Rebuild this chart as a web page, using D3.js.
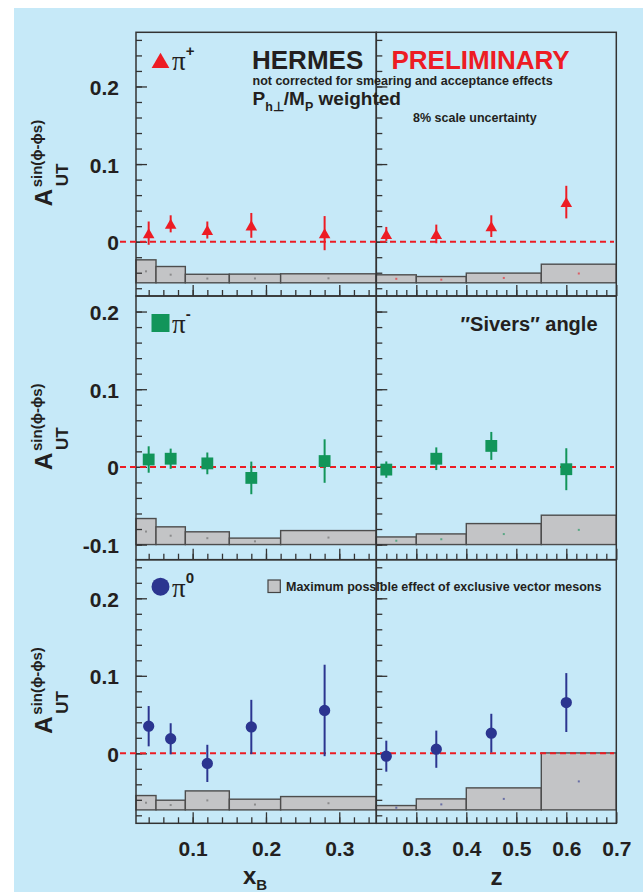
<!DOCTYPE html>
<html>
<head>
<meta charset="utf-8">
<script src="https://cdn.jsdelivr.net/npm/d3@7"></script>
<style>
  body { margin: 0; background: #fff; }
  svg { display: block; }
  text { font-family: "Liberation Sans", Arial, sans-serif; font-weight: bold; fill: #231f20; }
</style>
</head>
<body>
<svg id="chart" width="643" height="892"></svg>
<script>
// bin centres and bin edges
const xB = [0.04, 0.07, 0.12, 0.18, 0.28];
const zBins = [0.24, 0.34, 0.45, 0.60];
const xBEdges = [0.0227, 0.05, 0.09, 0.15, 0.22, 0.3505];
const zEdges = [0.22, 0.30, 0.40, 0.55, 0.70];

// asymmetries and stat errors
const piPlusX = [0.011, 0.023, 0.015, 0.021, 0.011];
const piPlusXErr = [0.015, 0.011, 0.011, 0.016, 0.022];
const piPlusZ = [0.010, 0.010, 0.020, 0.051];
const piPlusZErr = [0.009, 0.012, 0.014, 0.021];
const piMinusX = [0.0095, 0.0105, 0.0045, -0.0142, 0.0075];
const piMinusXErr = [0.017, 0.013, 0.014, 0.021, 0.028];
const piMinusZ = [-0.0035, 0.0105, 0.027, -0.003];
const piMinusZErr = [0.0105, 0.0146, 0.018, 0.027];
const piZeroX = [0.035, 0.0188, -0.013, 0.034, 0.0553];
const piZeroXErr = [0.026, 0.020, 0.024, 0.035, 0.059];
const piZeroZ = [-0.0037, 0.0053, 0.026, 0.0655];
const piZeroZErr = [0.020, 0.024, 0.025, 0.038];

// vector meson band: base level per row, heights per bin
const vmBase = [-0.053, -0.1, -0.073];
const vmPlusX = [0.0296, 0.021, 0.011, 0.0112, 0.0116];
const vmPlusZ = [0.0103, 0.0081, 0.0125, 0.024];
const vmMinusX = [0.0335, 0.0228, 0.0164, 0.0083, 0.018];
const vmMinusZ = [0.0098, 0.0137, 0.027, 0.0378];
const vmZeroX = [0.0185, 0.0125, 0.0245, 0.0138, 0.0172];
const vmZeroZ = [0.0056, 0.0142, 0.0284, 0.0735];

// axis ticks
const yTicks = [[0, 0.1, 0.2], [-0.1, 0, 0.1, 0.2], [0, 0.1, 0.2]];
const xBTicks = [0.1, 0.2, 0.3];
const zTicks = [0.3, 0.4, 0.5, 0.6, 0.7];

const red = "#ed1c24", green = "#12955a", blue = "#2b3590";

const svg = d3.select("#chart");
svg.append("rect").attr("x", 14).attr("y", 8).attr("width", 629).attr("height", 884).attr("fill", "#c6e9f8");

const rows = [
  { top: 32.3, bottom: 296, lo: -0.07, hi: 0.2698 },
  { top: 296, bottom: 559.7, lo: -0.1195, hi: 0.2200 },
  { top: 559.7, bottom: 823.3, lo: -0.0903, hi: 0.2498 },
];
const xL = d3.scaleLinear().domain([0.0227, 0.3505]).range([136, 376.3]);
const xR = d3.scaleLinear().domain([0.22, 0.70]).range([376.3, 616.3]);

const series = [
  { color: red, shape: "triangle",
    left: { x: xB, v: piPlusX, e: piPlusXErr, vm: vmPlusX },
    right: { x: zBins, v: piPlusZ, e: piPlusZErr, vm: vmPlusZ } },
  { color: green, shape: "square",
    left: { x: xB, v: piMinusX, e: piMinusXErr, vm: vmMinusX },
    right: { x: zBins, v: piMinusZ, e: piMinusZErr, vm: vmMinusZ } },
  { color: blue, shape: "circle",
    left: { x: xB, v: piZeroX, e: piZeroXErr, vm: vmZeroX },
    right: { x: zBins, v: piZeroZ, e: piZeroZErr, vm: vmZeroZ } },
];

function marker(g, shape, cx, cy, big, color) {
  let path, dy = 0;
  if (shape === "triangle") {
    const size = big ? 136 : 58;
    path = d3.symbol(d3.symbolTriangle, size)();
    dy = Math.sqrt(size / (Math.sqrt(3) * 3)) / 2;
  } else if (shape === "square") {
    path = d3.symbol(d3.symbolSquare, big ? 324 : 140)();
  } else {
    path = d3.symbol(d3.symbolCircle, big ? 254 : 100)();
  }
  g.append("path").attr("d", path).attr("fill", color)
    .attr("transform", `translate(${cx},${cy + dy})`);
}

function range(lo, hi, step) {
  const out = [];
  for (let v = lo; v <= hi + 1e-9; v += step) out.push(+v.toFixed(3));
  return out;
}

rows.forEach((row, ri) => {
  const y = d3.scaleLinear().domain([row.lo, row.hi]).range([row.bottom, row.top]);
  const s = series[ri];
  const g = svg.append("g");

  [["left", xL, xBEdges], ["right", xR, zEdges]].forEach(([side, x, edges]) => {
    const d = s[side];
    // vector meson boxes
    d.vm.forEach((h, i) => {
      const x0 = x(edges[i]), x1 = x(edges[i + 1]);
      const y0 = y(vmBase[ri]), y1 = y(vmBase[ri] + h);
      g.append("rect").attr("x", x0).attr("y", y1).attr("width", x1 - x0).attr("height", y0 - y1)
        .attr("fill", "#c3c4c6").attr("stroke", "#4d4d4d").attr("stroke-width", 1.4);
      g.append("rect").attr("x", (x0 + x1) / 2 - 1).attr("y", (y0 + y1) / 2 - 1)
        .attr("width", 2).attr("height", 2)
        .attr("fill", side === "left" ? "#666" : s.color).attr("opacity", 0.6);
    });
  });

  // y axes (ticks inward)
  const yMinor = range(Math.ceil(row.lo / 0.02) * 0.02, row.hi - 0.005, 0.02);
  [[xL, true], [xR, false]].forEach(([x, labels]) => {
    const ax = g.append("g").attr("transform", `translate(${x.range()[0]},0)`);
    ax.append("g").call(d3.axisLeft(y).tickValues(yMinor).tickSize(-6).tickFormat(""));
    ax.append("g").call(d3.axisLeft(y).tickValues(yTicks[ri]).tickSize(-11).tickPadding(17)
      .tickFormat(labels ? (v => v === 0 ? "0" : String(v)) : ""));
  });

  // x axes (ticks upward from bottom)
  [[xL, xBTicks, range(0.04, 0.34, 0.02)], [xR, zTicks, range(0.24, 0.68, 0.02)]].forEach(([x, major, minor]) => {
    const ax = g.append("g").attr("transform", `translate(0,${row.bottom})`);
    ax.append("g").call(d3.axisBottom(x).tickValues(minor).tickSize(-6).tickFormat(""));
    ax.append("g").call(d3.axisBottom(x).tickValues(major).tickSize(-11).tickPadding(18)
      .tickFormat(ri === 2 ? d3.format(".1f") : ""));
  });

  g.selectAll(".domain").remove();
  g.selectAll(".tick line").attr("stroke", "#333").attr("stroke-width", 1.3);
  g.selectAll(".tick text").style("font-size", "21px").attr("fill", "#231f20");
  g.selectAll(".tick text").filter(function () { return this.getAttribute("dy") === "0.32em"; }).attr("dy", "0.38em");

  // frames
  [xL, xR].forEach(x => {
    g.append("rect").attr("x", x.range()[0]).attr("y", row.top)
      .attr("width", x.range()[1] - x.range()[0]).attr("height", row.bottom - row.top)
      .attr("fill", "none").attr("stroke", "#333").attr("stroke-width", 1.5);
  });

  // zero line
  g.append("line").attr("x1", 120).attr("x2", 614).attr("y1", y(0)).attr("y2", y(0))
    .attr("stroke", red).attr("stroke-width", 2).attr("stroke-dasharray", "6,4");

  // points with error bars
  [["left", xL], ["right", xR]].forEach(([side, x]) => {
    const d = s[side];
    d.v.forEach((v, i) => {
      g.append("line").attr("x1", x(d.x[i])).attr("x2", x(d.x[i]))
        .attr("y1", y(v - d.e[i])).attr("y2", y(v + d.e[i]))
        .attr("stroke", s.color).attr("stroke-width", 2);
      marker(g, s.shape, x(d.x[i]), y(v), false, s.color);
    });
  });

  // y axis title
  const yA = row.top + 174;
  const t = svg.append("g").attr("transform", `translate(52,${yA}) rotate(-90)`);
  t.append("text").attr("x", 0).attr("y", 0).style("font-size", "24px").text("A");
  t.append("text").attr("x", 19).attr("y", -10).style("font-size", "15px").text("sin(\u03d5-\u03d5s)");
  t.append("text").attr("x", 20).attr("y", 16).style("font-size", "17px").text("UT");

  // species label
  const cy = row.top + [28, 27, 27][ri];
  marker(svg, s.shape, 160.5, cy, true, s.color);
  const lbl = svg.append("text").attr("x", 172).attr("y", cy + 10);
  lbl.append("tspan").style("font-family", "'Liberation Serif', serif").style("font-weight", "normal")
    .style("font-size", "27px").text("\u03c0");
  lbl.append("tspan").attr("dy", -14).style("font-size", "15px").text(["+", "-", "0"][ri]);
});

// headers
svg.append("text").attr("x", 252).attr("y", 68.5).style("font-size", "26px").text("HERMES");
svg.append("text").attr("x", 391.5).attr("y", 68.5).style("font-size", "26px").style("fill", red).text("PRELIMINARY");
svg.append("text").attr("x", 252.5).attr("y", 85).style("font-size", "12.5px").text("not corrected for smearing and acceptance effects");
const ph = svg.append("text").attr("x", 252.5).attr("y", 105).style("font-size", "19px");
ph.append("tspan").text("P");
ph.append("tspan").attr("dy", 6).style("font-size", "12.5px").text("h\u22a5");
ph.append("tspan").attr("dy", -6).text("/M");
ph.append("tspan").attr("dy", 6).style("font-size", "12.5px").text("P");
ph.append("tspan").attr("dy", -6).text(" weighted");
svg.append("text").attr("x", 413).attr("y", 121.5).style("font-size", "12.5px").text("8% scale uncertainty");
svg.append("text").attr("x", 460.5).attr("y", 331).style("font-size", "20px").text("\u2033Sivers\u2033 angle");

// legend for the band
svg.append("rect").attr("x", 268).attr("y", 580).attr("width", 12.3).attr("height", 12.5)
  .attr("fill", "#c3c4c6").attr("stroke", "#444").attr("stroke-width", 1.2);
svg.append("text").attr("x", 286).attr("y", 590.5).style("font-size", "12.5px")
  .text("Maximum possible effect of exclusive vector mesons");

// x axis titles
const xt = svg.append("text").attr("x", 243).attr("y", 884).style("font-size", "24px");
xt.append("tspan").text("x");
xt.append("tspan").attr("dy", 6).style("font-size", "15px").text("B");
svg.append("text").attr("x", 490.5).attr("y", 885).style("font-size", "24px").text("z");
</script>
</body>
</html>
